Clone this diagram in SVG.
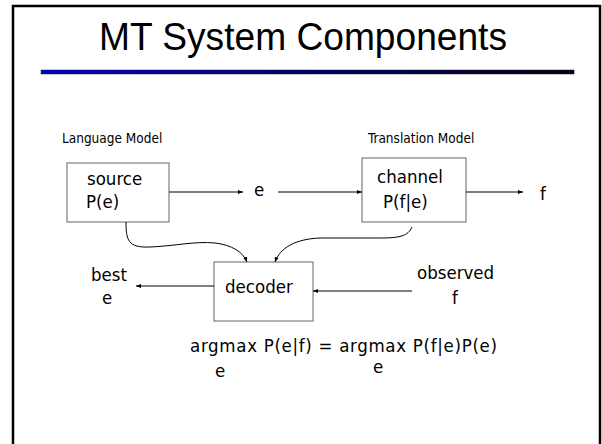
<svg xmlns="http://www.w3.org/2000/svg" width="602" height="444" viewBox="0 0 602 444">
<style>
.t{font-family:"DejaVu Sans Condensed","DejaVu Sans","Liberation Sans",sans-serif;fill:#000}
.lbl{font-size:18.5px}
.sm{font-size:13.5px}
.box{fill:#fff;stroke:#7f7f7f;stroke-width:1.2}
.cn{fill:none;stroke:#000;stroke-width:1}
</style>
<defs>
<linearGradient id="bar" x1="0" y1="0" x2="1" y2="0">
<stop offset="0" stop-color="#0000cc"/>
<stop offset="1" stop-color="#000010"/>
</linearGradient>
<marker id="ah" viewBox="0 0 10 10" refX="10" refY="5" markerWidth="5" markerHeight="5" orient="auto" markerUnits="userSpaceOnUse">
<path d="M0,1 L10,5 L0,9 z" fill="#000"/>
</marker>
</defs>
<rect x="13" y="6" width="587" height="452" fill="#fff" stroke="#000" stroke-width="2.5"/>
<text x="303" y="50" text-anchor="middle" style="font-family:'Liberation Sans',Arial,sans-serif;font-size:38px" textLength="408" lengthAdjust="spacingAndGlyphs">MT System Components</text>
<rect x="41" y="70" width="533" height="4" fill="url(#bar)" stroke="#222" stroke-width="0.5"/>
<text class="t sm" x="62" y="143">Language Model</text>
<text class="t sm" x="368" y="143">Translation Model</text>
<g id="source">
<rect class="box" x="67" y="163" width="102" height="59"/>
<text class="t lbl" x="87" y="185">source</text>
<text class="t lbl" x="86" y="208">P(e)</text>
</g>
<g id="channel">
<rect class="box" x="362" y="158" width="104" height="64"/>
<text class="t lbl" x="377" y="183">channel</text>
<text class="t lbl" x="383" y="208">P(f|e)</text>
</g>
<g id="decoder">
<rect class="box" x="214" y="262" width="99" height="59"/>
<text class="t lbl" x="225" y="293">decoder</text>
</g>
<g id="labels">
<text class="t lbl" x="254" y="196">e</text>
<text class="t lbl" x="540" y="200">f</text>
<text class="t lbl" x="91" y="281">best</text>
<text class="t lbl" x="102" y="304">e</text>
<text class="t lbl" x="417" y="279">observed</text>
<text class="t lbl" x="452" y="304">f</text>
<text class="t lbl" x="190" y="352" textLength="307" lengthAdjust="spacing">argmax P(e|f) = argmax P(f|e)P(e)</text>
<text class="t lbl" x="215" y="377">e</text>
<text class="t lbl" x="373" y="373">e</text>
</g>
<g id="connectors">
<line class="cn" x1="169" y1="192" x2="243" y2="192" marker-end="url(#ah)"/>
<line class="cn" x1="278" y1="192" x2="362" y2="192" marker-end="url(#ah)"/>
<line class="cn" x1="466" y1="192" x2="523" y2="192" marker-end="url(#ah)"/>
<line class="cn" x1="214" y1="286" x2="136" y2="286" marker-end="url(#ah)"/>
<line class="cn" x1="412" y1="291" x2="313" y2="291" marker-end="url(#ah)"/>
<path class="cn" d="M126,222 C126,240 128,248 150,247 C175,246 195,241 215,243 C232,245 243,252 247,262" marker-end="url(#ah)"/>
<path class="cn" d="M412,227 C408,236 400,238 380,238 L320,238 C295,239 280,248 275,262" marker-end="url(#ah)"/>
</g>
</svg>
